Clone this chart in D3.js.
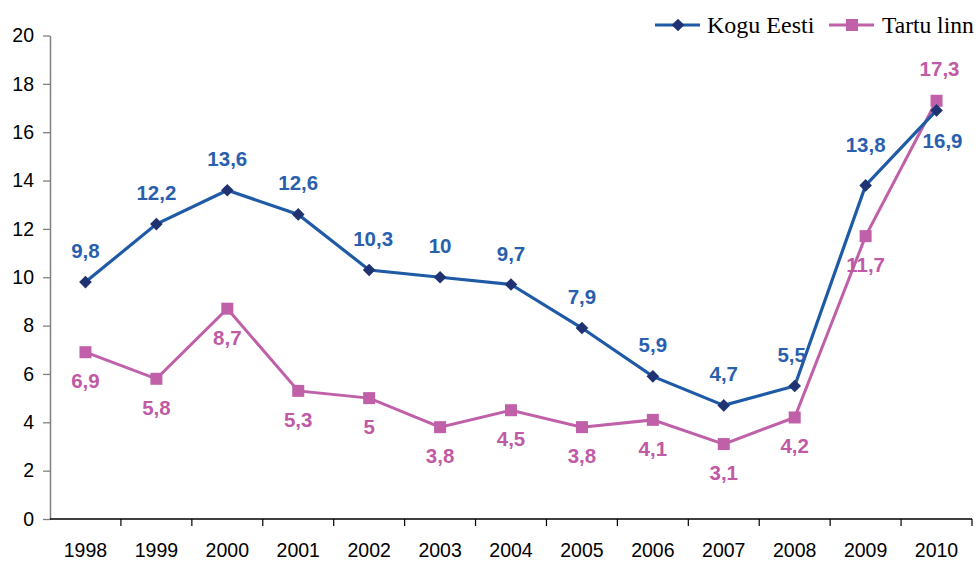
<!DOCTYPE html>
<html>
<head>
<meta charset="utf-8">
<script src="https://cdn.jsdelivr.net/npm/d3@7"></script>
<style>
  body { margin: 0; background: #fff; }
  svg { display: block; }
</style>
</head>
<body>
<div id="chart"></div>
<script>
const years = ["1998","1999","2000","2001","2002","2003","2004","2005","2006","2007","2008","2009","2010"];
const koguEesti = [9.8, 12.2, 13.6, 12.6, 10.3, 10, 9.7, 7.9, 5.9, 4.7, 5.5, 13.8, 16.9];
const tartuLinn = [6.9, 5.8, 8.7, 5.3, 5, 3.8, 4.5, 3.8, 4.1, 3.1, 4.2, 11.7, 17.3];
const seriesNames = ["Kogu Eesti", "Tartu linn"];
const yTicks = [0, 2, 4, 6, 8, 10, 12, 14, 16, 18, 20];

const W = 977, H = 561;
const margin = {top: 35.5, right: 5, bottom: 42, left: 50};

const svg = d3.select("#chart").append("svg")
    .attr("width", W)
    .attr("height", H);

const x = d3.scaleBand()
    .domain(years)
    .range([margin.left, W - margin.right])
    .padding(0);
const y = d3.scaleLinear()
    .domain([0, 20])
    .range([H - margin.bottom, margin.top]);

const cx = d => x(d) + x.bandwidth() / 2;

// y axis
const yAxis = svg.append("g")
    .attr("transform", `translate(${margin.left},0)`)
    .call(d3.axisLeft(y).tickValues(yTicks).tickSize(7).tickPadding(9).tickSizeOuter(0));
yAxis.select(".domain").attr("stroke", "#808080").attr("stroke-width", 1.5);
yAxis.selectAll(".tick line").attr("stroke", "#808080").attr("stroke-width", 1.3);
yAxis.selectAll(".tick text")
    .attr("font-family", "Liberation Sans, Arial, sans-serif")
    .attr("font-size", 19.5)
    .attr("fill", "#000");

// x axis with ticks between categories
const xAxisG = svg.append("g").attr("transform", `translate(0,${y(0)})`);
xAxisG.append("line")
    .attr("x1", margin.left).attr("x2", W - margin.right)
    .attr("stroke", "#000").attr("stroke-width", 1.3);
const bounds = years.map(d => x(d)).concat([x(years[years.length - 1]) + x.bandwidth()]);
xAxisG.selectAll(".xt").data(bounds.slice(1)).join("line")
    .attr("class", "xt")
    .attr("x1", d => d).attr("x2", d => d)
    .attr("y1", 0).attr("y2", 7)
    .attr("stroke", "#000").attr("stroke-width", 1.2);
xAxisG.selectAll(".xl").data(years).join("text")
    .attr("class", "xl")
    .attr("x", d => cx(d))
    .attr("y", 38)
    .attr("text-anchor", "middle")
    .attr("font-family", "Liberation Sans, Arial, sans-serif")
    .attr("font-size", 19.5)
    .attr("fill", "#000")
    .text(d => d);

const blueLine = "#1F5AA6", blueMark = "#1F3372", blueText = "#2A5FAE";
const pink = "#C060A8", pinkText = "#C05AA6";

const line = d3.line().x(d => cx(d.year)).y(d => y(d.v));
const blueData = years.map((yr, i) => ({year: yr, v: koguEesti[i]}));
const pinkData = years.map((yr, i) => ({year: yr, v: tartuLinn[i]}));

svg.append("path").datum(pinkData)
    .attr("d", line).attr("fill", "none")
    .attr("stroke", pink).attr("stroke-width", 3);
svg.append("path").datum(blueData)
    .attr("d", line).attr("fill", "none")
    .attr("stroke", blueLine).attr("stroke-width", 3.2);

const diamond = d3.symbol().type(d3.symbolSquare).size(80);
svg.selectAll(".pm").data(pinkData).join("rect")
    .attr("class", "pm")
    .attr("x", d => cx(d.year) - 6).attr("y", d => y(d.v) - 6)
    .attr("width", 12).attr("height", 12)
    .attr("fill", pink);
svg.selectAll(".bm").data(blueData).join("path")
    .attr("class", "bm")
    .attr("d", diamond)
    .attr("transform", d => `translate(${cx(d.year)},${y(d.v)}) rotate(45)`)
    .attr("fill", blueMark);

const fmt = v => String(v).replace(".", ",");
const last = years.length - 1;

// value labels
svg.selectAll(".bl").data(blueData).join("text")
    .attr("class", "bl")
    .attr("x", (d, i) => cx(d.year) + (i === last ? 6 : i === 10 ? -3 : i === 4 ? 4 : 0))
    .attr("y", (d, i) => y(d.v) + (i === last ? 38 : i === 11 ? -33 : -24))
    .attr("text-anchor", "middle")
    .attr("font-family", "Liberation Sans, Arial, sans-serif")
    .attr("font-weight", "bold")
    .attr("font-size", 20.5)
    .attr("fill", blueText)
    .text(d => fmt(d.v));

svg.selectAll(".pl").data(pinkData).join("text")
    .attr("class", "pl")
    .attr("x", (d, i) => cx(d.year) + (i === last ? 3 : 0))
    .attr("y", (d, i) => y(d.v) + (i === last ? -25 : 36))
    .attr("text-anchor", "middle")
    .attr("font-family", "Liberation Sans, Arial, sans-serif")
    .attr("font-weight", "bold")
    .attr("font-size", 20.5)
    .attr("fill", pinkText)
    .text(d => fmt(d.v));

// legend
const legend = svg.append("g").attr("transform", "translate(655,25)");
const lg1 = legend.append("g");
lg1.append("line").attr("x1", 0).attr("x2", 45).attr("stroke", blueLine).attr("stroke-width", 3);
lg1.append("path").attr("d", diamond).attr("transform", "translate(23,0) rotate(45)").attr("fill", blueMark);
lg1.append("text").attr("x", 52).attr("y", 8)
    .attr("font-family", "Liberation Serif, Times New Roman, serif")
    .attr("font-size", 24).attr("fill", "#000").text(seriesNames[0]);
const lg2 = legend.append("g").attr("transform", "translate(174,0)");
lg2.append("line").attr("x1", 0).attr("x2", 45).attr("stroke", pink).attr("stroke-width", 3);
lg2.append("rect").attr("x", 17).attr("y", -6).attr("width", 12).attr("height", 12).attr("fill", pink);
lg2.append("text").attr("x", 53).attr("y", 8)
    .attr("font-family", "Liberation Serif, Times New Roman, serif")
    .attr("font-size", 23.5).attr("fill", "#000").text(seriesNames[1]);
</script>
</body>
</html>
